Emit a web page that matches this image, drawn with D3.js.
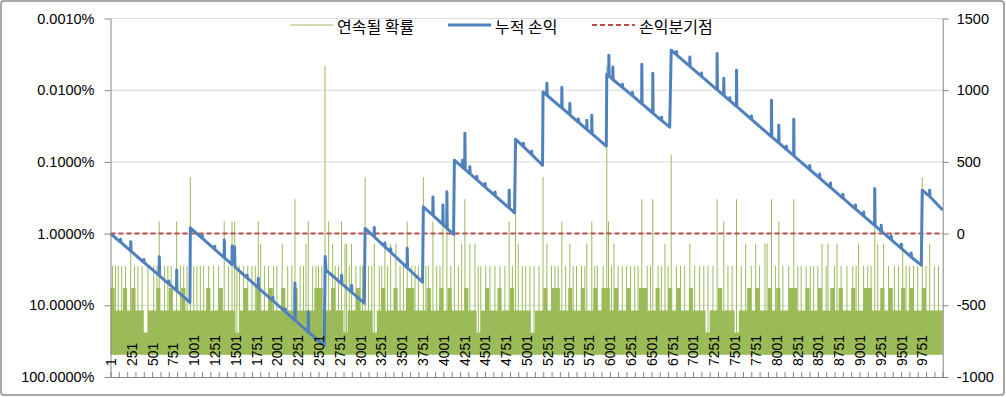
<!DOCTYPE html>
<html>
<head>
<meta charset="utf-8">
<script src="https://cdn.jsdelivr.net/npm/d3@7"></script>
<style>
  body { margin: 0; background: #fff; }
  svg text { font-family: "Liberation Sans", Arial, sans-serif; fill: #000; }
  .legend text { font-family: "Noto Sans CJK KR", sans-serif; font-size: 16px; }
</style>
</head>
<body>
<svg id="chart" width="1006" height="397"></svg>
<script>
// x axis labels (category numbers)
const xTickLabels = [1, 251, 501, 751, 1001, 1251, 1501, 1751, 2001, 2251, 2501, 2751, 3001, 3251,
  3501, 3751, 4001, 4251, 4501, 4751, 5001, 5251, 5501, 5751, 6001, 6251, 6501, 6751, 7001, 7251,
  7501, 7751, 8001, 8251, 8501, 8751, 9001, 9251, 9501, 9751]
const leftTicks = [0.001, 0.01, 0.1, 1, 10, 100]
const rightTicks = [-1000, -500, 0, 500, 1000, 1500]
const trialCount = 10000

// probability (%) of a streak of length 1..14
const probLevels = [49, 24, 11.8, 5.76, 2.82, 1.38, 0.678, 0.332, 0.163, 0.0798, 0.0391, 0.0192, 0.0094, 0.0046]

// typical streak level reached in each block of 50 trials (the dense green band)
const bandBin = 50
const bandLevels = [
  4, 3, 3, 4, 3, 4, 3, 3, 2, 3, 3, 4, 3, 3, 4, 3, 3, 4, 3, 3,
  3, 3, 3, 4, 3, 3, 4, 3, 3, 3, 2, 3, 4, 3, 3, 4, 3, 3, 4, 3,
  3, 4, 3, 3, 4, 3, 3, 3, 3, 4, 4, 3, 3, 4, 3, 3, 2, 3, 3, 4,
  3, 3, 3, 2, 3, 4, 3, 3, 4, 3, 3, 4, 4, 3, 3, 3, 4, 3, 3, 4,
  3, 4, 3, 3, 3, 4, 3, 3, 2, 3, 4, 3, 3, 4, 3, 3, 4, 3, 3, 3,
  3, 2, 3, 3, 4, 3, 4, 4, 3, 3, 4, 3, 3, 4, 3, 3, 4, 3, 4, 4,
  3, 4, 3, 3, 4, 3, 3, 4, 4, 3, 3, 4, 3, 3, 4, 3, 4, 3, 3, 4,
  3, 3, 3, 2, 3, 3, 4, 3, 3, 3, 2, 3, 3, 4, 3, 4, 3, 3, 4, 3,
  4, 3, 3, 4, 4, 3, 3, 4, 3, 3, 4, 3, 3, 4, 3, 4, 3, 3, 4, 3,
  3, 4, 4, 3, 3, 4, 3, 4, 3, 3, 4, 3, 4, 3, 3, 4, 3, 3, 3, 3]

// longer streaks: [trial, streak length]
const greenSpikes = [
  [25, 5], [60, 5], [94, 5], [135, 5], [180, 5], [243, 6], [290, 5], [330, 5], [380, 5], [450, 5],
  [520, 5], [560, 5], [586, 7], [650, 5], [690, 5], [730, 5], [795, 7], [840, 5], [880, 5], [920, 5],
  [960, 9], [1000, 5], [1040, 5], [1080, 5], [1120, 5], [1180, 5], [1240, 5], [1300, 5], [1367, 7],
  [1420, 5], [1461, 7], [1493, 7], [1520, 5], [1550, 5], [1600, 5], [1650, 5], [1700, 5], [1740, 5],
  [1776, 7], [1805, 6], [1850, 5], [1900, 5], [1960, 5], [2000, 5], [2064, 6], [2130, 5], [2180, 5],
  [2217, 8], [2280, 5], [2320, 5], [2349, 6], [2377, 7], [2430, 5], [2470, 5], [2500, 5], [2540, 5],
  [2578, 14], [2622, 7], [2670, 6], [2700, 5], [2740, 5], [2777, 7], [2818, 6], [2838, 6], [2870, 5],
  [2897, 6], [2950, 5], [3000, 5], [3030, 5], [3060, 9], [3100, 5], [3140, 5], [3170, 6], [3230, 5],
  [3260, 5], [3298, 6], [3330, 5], [3367, 6], [3430, 6], [3480, 5], [3520, 5], [3566, 7], [3620, 5],
  [3660, 5], [3700, 5], [3760, 9], [3790, 5], [3820, 5], [3875, 7], [3920, 5], [3960, 5], [3995, 7],
  [4043, 7], [4090, 5], [4133, 9], [4180, 5], [4220, 6], [4259, 8], [4319, 6], [4380, 6], [4420, 5],
  [4450, 5], [4510, 5], [4560, 5], [4620, 5], [4680, 5], [4740, 5], [4791, 7], [4830, 5], [4868, 9],
  [4900, 6], [4950, 5], [4990, 5], [5040, 5], [5090, 5], [5150, 5], [5198, 9], [5244, 6], [5300, 5],
  [5340, 5], [5380, 5], [5424, 7], [5470, 5], [5520, 6], [5560, 5], [5600, 5], [5660, 5], [5700, 5],
  [5724, 6], [5784, 7], [5820, 5], [5850, 5], [5920, 5], [5964, 14], [5985, 7], [6020, 5], [6050, 6],
  [6100, 5], [6150, 5], [6200, 5], [6250, 5], [6300, 5], [6340, 5], [6385, 8], [6450, 5], [6490, 5],
  [6517, 8], [6580, 5], [6620, 5], [6663, 6], [6700, 5], [6738, 10], [6800, 5], [6850, 5], [6900, 5],
  [6962, 6], [7020, 5], [7080, 5], [7130, 5], [7180, 5], [7240, 5], [7290, 8], [7370, 7], [7420, 5],
  [7470, 5], [7523, 8], [7580, 5], [7633, 6], [7700, 5], [7753, 6], [7800, 5], [7865, 6], [7890, 6],
  [7943, 8], [7990, 5], [8031, 7], [8080, 5], [8150, 5], [8211, 8], [8260, 5], [8300, 5], [8360, 5],
  [8410, 5], [8450, 5], [8500, 5], [8550, 6], [8600, 5], [8622, 6], [8700, 5], [8730, 6], [8780, 5],
  [8850, 5], [8920, 5], [8960, 5], [8990, 6], [9050, 5], [9100, 5], [9140, 5], [9184, 7], [9220, 6],
  [9290, 6], [9350, 5], [9420, 5], [9470, 5], [9520, 6], [9560, 5], [9600, 5], [9650, 5], [9700, 5],
  [9755, 9], [9800, 5], [9844, 6], [9900, 5], [9950, 5]]

// cumulative profit/loss vertices: [trial, value]
const pnl = [
  [1, 0], [120, -60], [122, -40], [126, -62], [242, -121], [244, -57], [248, -123],
  [400, -200], [402, -180], [406, -202], [585, -292], [587, -162], [591, -295],
  [700, -350], [702, -330], [706, -353], [794, -397], [796, -254], [800, -400],
  [955, -480], [960, 40],
  [1100, -31], [1102, -10], [1106, -33], [1250, -108], [1252, -88], [1256, -111],
  [1366, -168], [1368, -45], [1372, -170], [1460, -216], [1462, -87], [1492, -95], [1496, -232],
  [1640, -308], [1642, -290], [1646, -311], [1774, -377], [1776, -312], [1780, -380],
  [1950, -467], [1952, -445], [1956, -470], [2100, -544], [2102, -525], [2106, -547],
  [2215, -603], [2217, -345], [2221, -606], [2375, -685], [2377, -545], [2381, -688],
  [2570, -780], [2580, -160], [2590, -255],
  [2776, -348], [2778, -290], [2782, -350], [2896, -408], [2898, -360], [2902, -410],
  [3050, -485], [3060, 36],
  [3168, -22], [3170, 43], [3174, -25], [3296, -91], [3298, -65], [3302, -94],
  [3365, -128], [3367, -105], [3371, -131], [3564, -237], [3566, -103], [3570, -240],
  [3750, -338], [3760, 187],
  [3873, 128], [3875, 256], [3879, 125], [3993, 64], [3995, 199], [3999, 61],
  [4041, 38], [4043, 291], [4047, 35], [4123, -5], [4133, 512],
  [4229, 463], [4231, 512], [4235, 460], [4257, 449], [4259, 700], [4263, 447],
  [4317, 419], [4319, 466], [4323, 416], [4400, 377], [4402, 400], [4406, 374],
  [4500, 326], [4502, 350], [4506, 323], [4620, 265], [4622, 290], [4626, 262],
  [4789, 180], [4791, 303], [4795, 178], [4856, 145], [4868, 658],
  [4960, 608], [4962, 630], [4966, 605], [5060, 552], [5062, 575], [5066, 549],
  [5192, 477], [5198, 988],
  [5242, 966], [5244, 1049], [5248, 963], [5422, 877], [5424, 1021], [5428, 875],
  [5518, 829], [5520, 909], [5524, 827], [5620, 778], [5622, 800], [5626, 776],
  [5722, 727], [5724, 791], [5728, 725], [5782, 697], [5784, 826], [5788, 695],
  [5958, 610], [5964, 1111],
  [5987, 1100], [5989, 1244], [5993, 1098], [6035, 1076], [6037, 1162], [6041, 1073],
  [6150, 1020], [6152, 1042], [6156, 1018], [6270, 962], [6272, 985], [6276, 960],
  [6383, 906], [6385, 1181], [6389, 904], [6515, 841], [6517, 1119], [6521, 839],
  [6620, 790], [6622, 812], [6626, 788], [6720, 742], [6738, 1279],
  [6800, 1248], [6802, 1270], [6806, 1245], [6960, 1168], [6962, 1232], [6966, 1165],
  [7100, 1098], [7102, 1120], [7106, 1095], [7288, 1004], [7290, 1256], [7294, 1002],
  [7368, 964], [7370, 1084], [7374, 962], [7440, 928], [7442, 948], [7446, 925],
  [7521, 888], [7523, 1139], [7527, 886], [7700, 798], [7702, 820], [7706, 795],
  [7941, 677], [7943, 930], [7947, 675], [8029, 633], [8031, 756], [8035, 631],
  [8120, 588], [8122, 610], [8126, 585], [8209, 543], [8211, 798], [8215, 541],
  [8400, 448], [8402, 475], [8406, 445], [8520, 388], [8522, 415], [8526, 385],
  [8650, 323], [8652, 353], [8656, 320], [8800, 248], [8802, 275], [8806, 245],
  [8950, 173], [8952, 200], [8956, 170], [9050, 123], [9052, 150], [9056, 120],
  [9182, 57], [9184, 315], [9188, 55], [9260, 18], [9262, 58], [9266, 15],
  [9380, -42], [9382, -15], [9386, -45], [9500, -102], [9502, -75], [9506, -105],
  [9620, -162], [9622, -135], [9626, -165], [9743, -220], [9755, 303],
  [9842, 259], [9844, 303], [9848, 257], [10000, 165]]

const breakEven = 0

const svg = d3.select('#chart')
const plotLeft = 110.5
const plotRight = 942.7
const plotTop = 18.5
const plotBottom = 377

const xscale = d3.scaleLinear()
  .domain([0.5, trialCount + 0.5])
  .range([plotLeft, plotRight])

const yLeft = d3.scaleLog()
  .domain([0.001, 100])
  .range([plotTop, plotBottom])

const yRight = d3.scaleLinear()
  .domain([-1000, 1500])
  .range([plotBottom, plotTop])

// outer frame
svg.append('rect')
  .attr('x', 1).attr('y', 1)
  .attr('width', 1003).attr('height', 394)
  .attr('rx', 3)
  .attr('fill', 'none')
  .attr('stroke', '#8c8c8c')
  .attr('stroke-width', 1.5)

// gridlines
svg.append('g')
  .selectAll('line')
  .data(leftTicks.slice(0, -1))
  .enter()
  .append('line')
  .attr('x1', plotLeft).attr('x2', plotRight)
  .attr('y1', (d) => yLeft(d)).attr('y2', (d) => yLeft(d))
  .attr('stroke', '#d9d9d9')
  .attr('stroke-width', 1)

// green band
const bandPoints = bandLevels.map((lv, i) => [i * bandBin + 0.5, lv])
bandPoints.push([trialCount + 0.5, bandLevels[bandLevels.length - 1]])
const band = d3.area()
  .curve(d3.curveStepAfter)
  .x((d) => xscale(d[0]))
  .y0(yLeft(probLevels[0]))
  .y1((d) => yLeft(probLevels[d[1] - 1]))
svg.append('path')
  .datum(bandPoints)
  .attr('d', band)
  .attr('fill', '#9bbb59')

// green spikes
svg.append('g')
  .selectAll('line')
  .data(greenSpikes)
  .enter()
  .append('line')
  .attr('x1', (d) => xscale(d[0])).attr('x2', (d) => xscale(d[0]))
  .attr('y1', yLeft(probLevels[0]))
  .attr('y2', (d) => yLeft(probLevels[d[1] - 1]))
  .attr('stroke', '#9bbb59')
  .attr('stroke-width', 1)

// break-even dashed line
svg.append('line')
  .attr('x1', plotLeft).attr('x2', plotRight)
  .attr('y1', yRight(breakEven)).attr('y2', yRight(breakEven))
  .attr('stroke', '#be4b48')
  .attr('stroke-width', 2)
  .attr('stroke-dasharray', '5,3')

// cumulative P/L
const pnlLine = d3.line()
  .x((d) => xscale(d[0]))
  .y((d) => yRight(d[1]))
svg.append('path')
  .datum(pnl)
  .attr('d', pnlLine)
  .attr('fill', 'none')
  .attr('stroke', '#4f81bd')
  .attr('stroke-width', 3)
  .attr('stroke-linejoin', 'round')

// axes
const axisColor = '#868686'
const leftAxis = d3.axisLeft(yLeft)
  .tickValues(leftTicks)
  .tickFormat((d) => d.toFixed(4) + '%')
  .tickSize(6)
  .tickSizeOuter(0)
  .tickPadding(10)
const gl = svg.append('g')
  .attr('transform', `translate(${plotLeft}, 0)`)
  .call(leftAxis)
gl.selectAll('text').style('font-size', '14.5px')

const rightAxis = d3.axisRight(yRight)
  .tickValues(rightTicks)
  .tickFormat((d) => String(d))
  .tickSize(6)
  .tickSizeOuter(0)
  .tickPadding(8)
const gr = svg.append('g')
  .attr('transform', `translate(${plotRight}, 0)`)
  .call(rightAxis)
gr.selectAll('text').style('font-size', '14.5px')

// bottom tick marks every 100 trials (between categories)
const bottomTicks = d3.axisBottom(xscale)
  .tickValues(d3.range(0, trialCount + 1, 100).map((t) => t + 0.5))
  .tickFormat('')
  .tickSize(-5)
  .tickSizeOuter(0)
svg.append('g')
  .attr('transform', `translate(0, ${plotBottom})`)
  .call(bottomTicks)

const bottomLabels = d3.axisBottom(xscale)
  .tickValues(xTickLabels)
  .tickFormat((d) => String(d))
  .tickSize(0)
  .tickSizeOuter(0)
const gb = svg.append('g')
  .attr('transform', `translate(0, ${plotBottom})`)
  .call(bottomLabels)
gb.select('.domain').remove()
gb.selectAll('text')
  .attr('transform', 'rotate(-90)')
  .attr('x', 11)
  .attr('y', 0)
  .attr('dy', '0.35em')
  .style('text-anchor', 'start')
  .style('font-size', '14px')

svg.selectAll('.domain, .tick line').attr('stroke', axisColor)
svg.selectAll('.tick text').attr('fill', '#000')

// legend
const legend = svg.append('g').attr('class', 'legend')
const legendItems = [
  { name: '연속될 확률', x: 290, color: '#9bbb59', width: 1, dash: null },
  { name: '누적 손익', x: 448, color: '#4f81bd', width: 3, dash: null },
  { name: '손익분기점', x: 592, color: '#be4b48', width: 2, dash: '5,3' }
]
legendItems.forEach((item) => {
  legend.append('line')
    .attr('x1', item.x).attr('x2', item.x + 43)
    .attr('y1', 25).attr('y2', 25)
    .attr('stroke', item.color)
    .attr('stroke-width', item.width)
    .attr('stroke-dasharray', item.dash)
  legend.append('text')
    .attr('x', item.x + 47)
    .attr('y', 25.5)
    .attr('dominant-baseline', 'central')
    .text(item.name)
})
</script>
</body>
</html>
